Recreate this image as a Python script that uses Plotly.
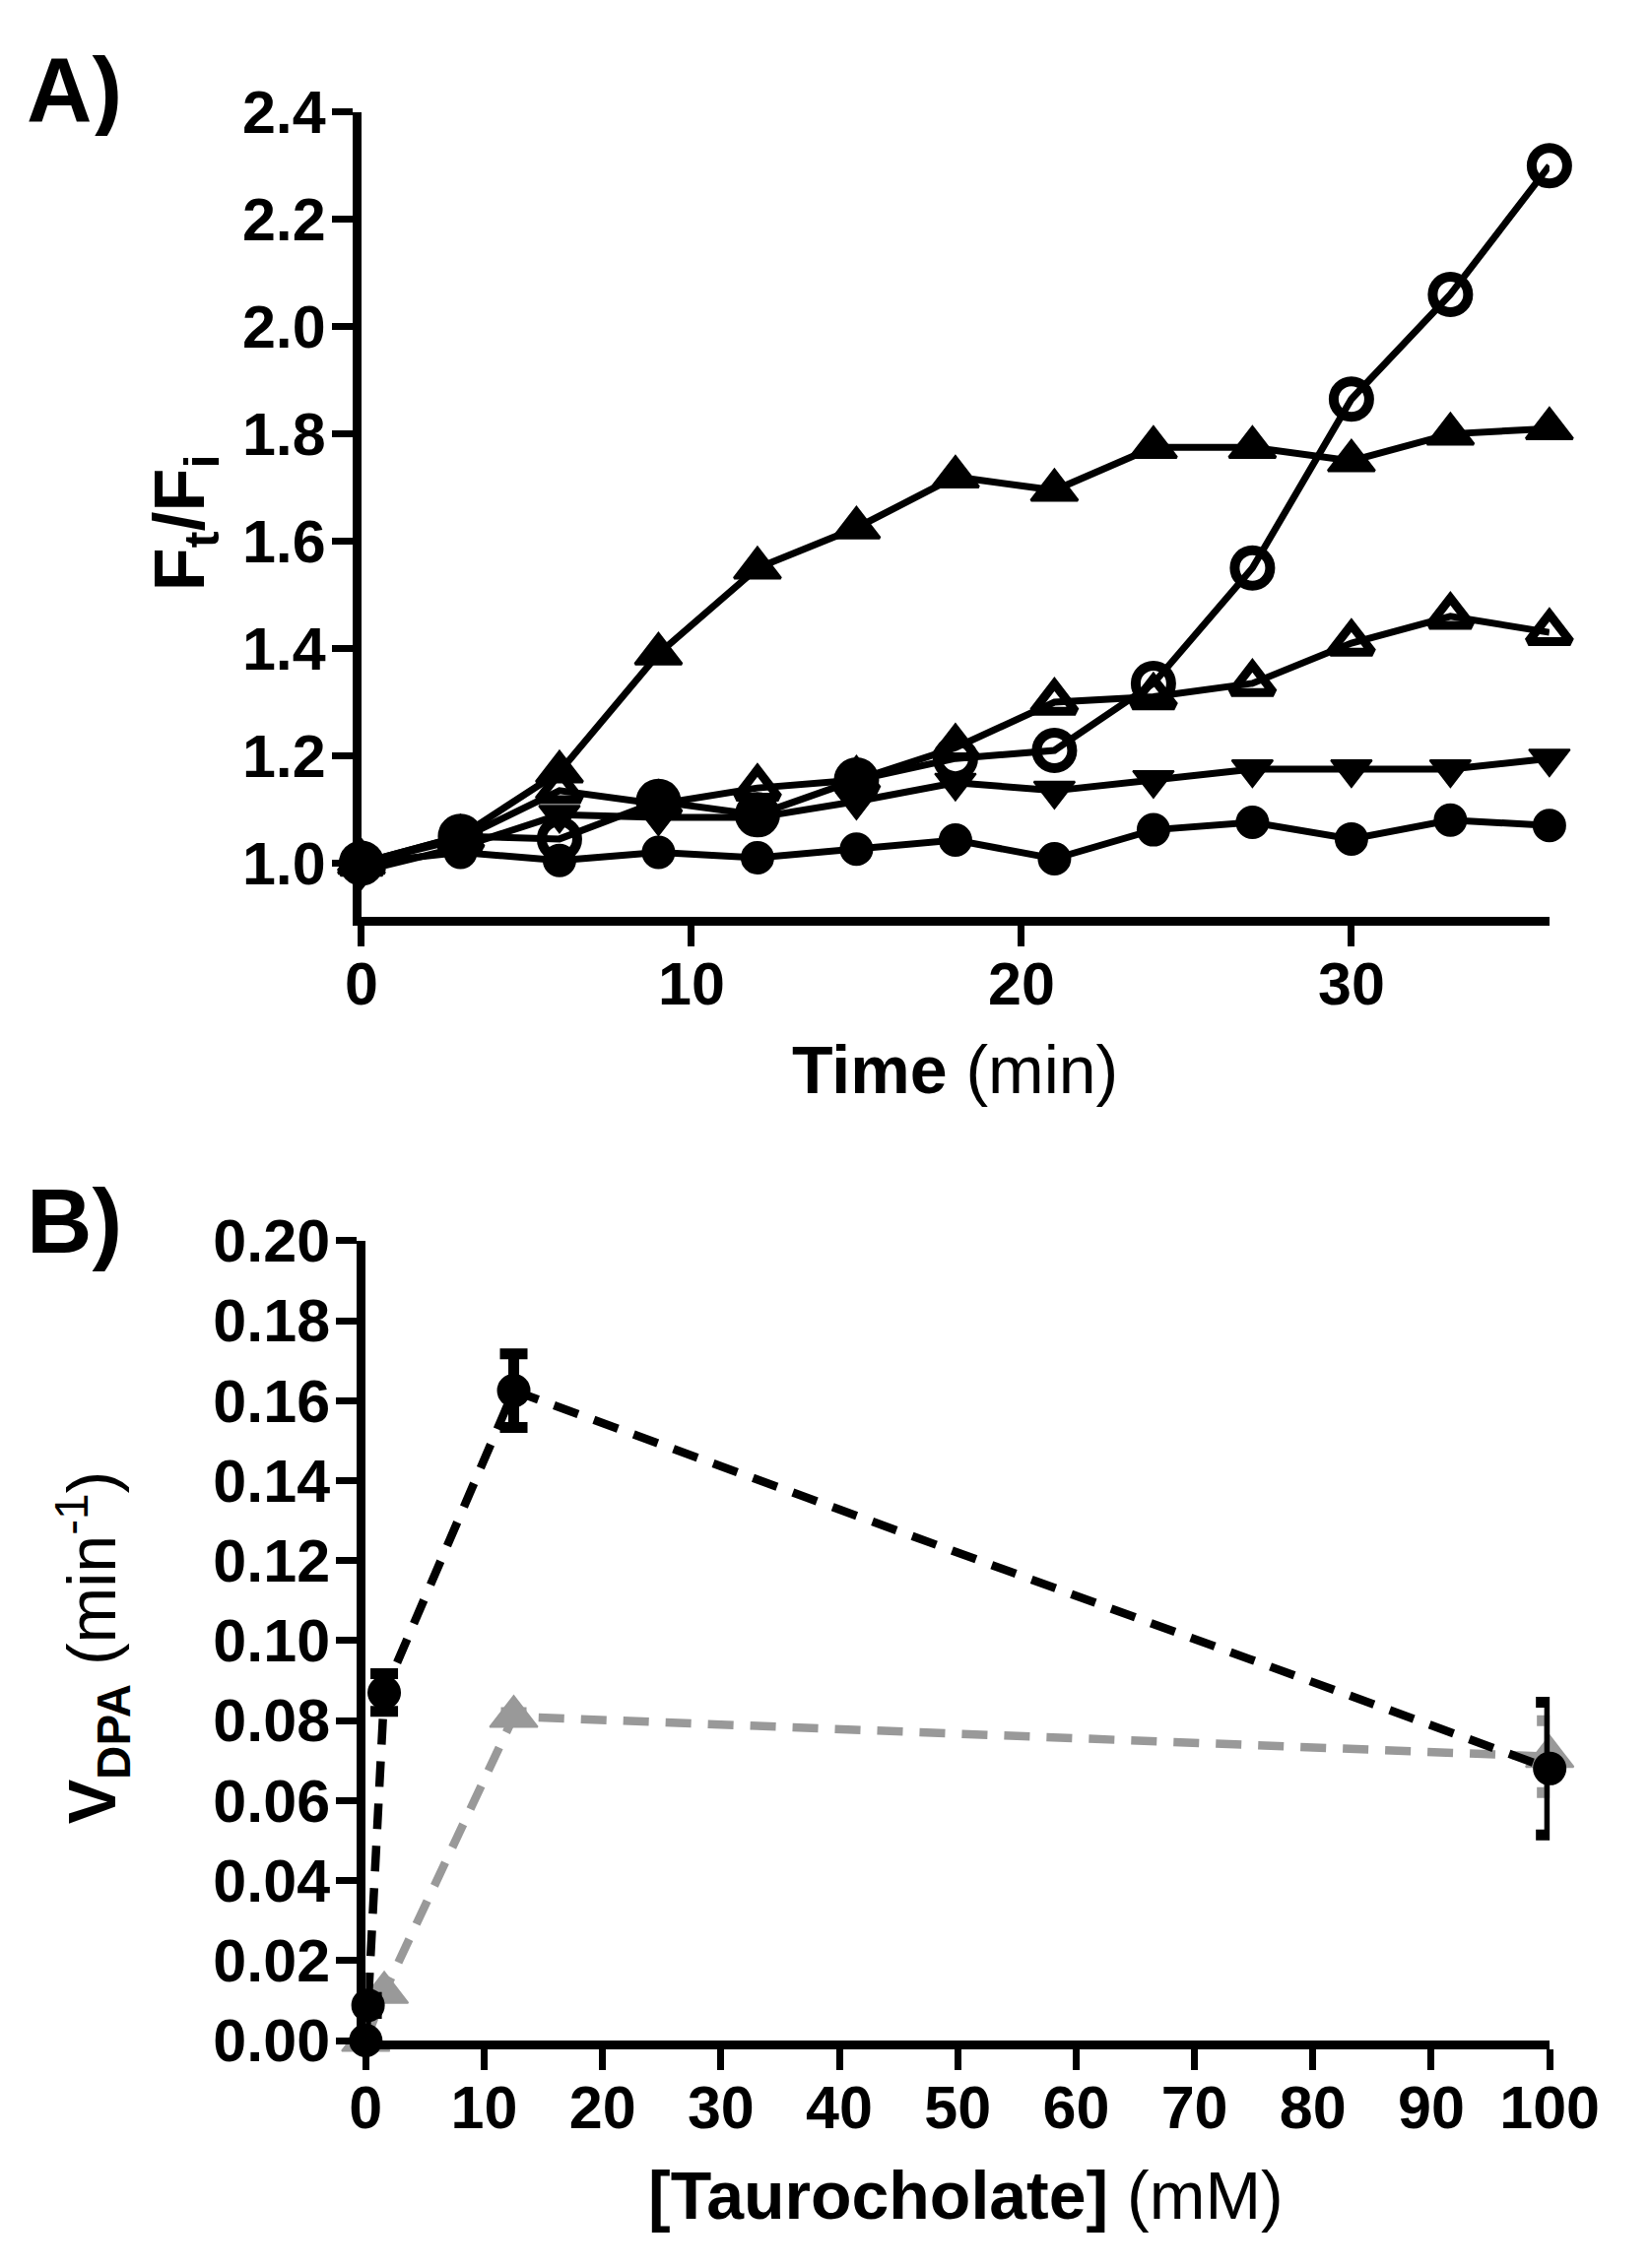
import plotly.graph_objects as go

# ---------- data: panel A (F_t/F_i vs time) ----------
time_min = [0, 3, 6, 9, 12, 15, 18, 21, 24, 27, 30, 33, 36]

filled_tri = [1.00, 1.05, 1.17, 1.39, 1.55, 1.625, 1.72, 1.695, 1.775, 1.775, 1.75, 1.80, 1.81]
open_circ = [1.00, 1.05, 1.045, 1.115, 1.09, 1.155, 1.195, 1.21, 1.335, 1.55, 1.865, 2.06, 2.30]
open_tri = [1.00, 1.045, 1.135, 1.11, 1.14, 1.155, 1.215, 1.30, 1.31, 1.335, 1.41, 1.46, 1.43]
down_tri = [0.985, 1.03, 1.09, 1.085, 1.085, 1.115, 1.15, 1.135, 1.155, 1.175, 1.175, 1.175, 1.195]
filled_circ = [1.00, 1.02, 1.005, 1.02, 1.01, 1.026, 1.043, 1.008, 1.062, 1.076, 1.045, 1.08, 1.07]

a_yticks = [1.0, 1.2, 1.4, 1.6, 1.8, 2.0, 2.2, 2.4]
a_xticks = [0, 10, 20, 30]

# ---------- data: panel B (V_DPA vs taurocholate) ----------
tc_black = [0, 0.195, 1.5625, 12.5, 100]
v_black = [0.0, 0.0088, 0.087, 0.1625, 0.068]
v_black_err = [0.0, 0.002, 0.0047, 0.0092, 0.0166]

tc_gray = [0, 1.5625, 12.5, 100]
v_gray = [0.0, 0.012, 0.081, 0.071]
v_gray_err = [0.0, 0.0, 0.001, 0.009]

b_yticks = [0.00, 0.02, 0.04, 0.06, 0.08, 0.10, 0.12, 0.14, 0.16, 0.18, 0.20]
b_xticks = [0, 10, 20, 30, 40, 50, 60, 70, 80, 90, 100]

# ---------- page geometry ----------
W, H = 1675, 2303
OFF = 8  # default body margin of the html page
FW, FH = W - OFF, H - OFF


def fx(px):
    """page pixel -> paper x"""
    return (px - OFF) / FW


def fy(py):
    """page pixel -> paper y"""
    return 1 - (py - OFF) / FH


FONT = "Liberation Sans, Arial, Helvetica, sans-serif"
BLACK = "#000000"
GRAY = "#999999"
LW = 7

fig = go.Figure()

# open circles look filled at the crowded early points in the original
circ_symbols = ["circle" if i in (0, 1, 3, 4, 5) else "circle-open" for i in range(len(time_min))]

fig.add_trace(go.Scatter(
    x=time_min, y=filled_circ, mode="lines+markers", cliponaxis=False,
    line=dict(color=BLACK, width=LW),
    marker=dict(symbol="circle", size=32, color=BLACK, line=dict(color=BLACK, width=2)),
    xaxis="x", yaxis="y", showlegend=False))
fig.add_trace(go.Scatter(
    x=time_min, y=down_tri, mode="lines+markers", cliponaxis=False,
    line=dict(color=BLACK, width=LW),
    marker=dict(symbol="triangle-down", size=36, color=BLACK, line=dict(color=BLACK, width=2)),
    xaxis="x", yaxis="y", showlegend=False))
fig.add_trace(go.Scatter(
    x=time_min, y=open_tri, mode="lines+markers", cliponaxis=False,
    line=dict(color=BLACK, width=LW),
    marker=dict(symbol="triangle-up-open", size=37, color=BLACK, line=dict(color=BLACK, width=9)),
    xaxis="x", yaxis="y", showlegend=False))
fig.add_trace(go.Scatter(
    x=time_min, y=filled_tri, mode="lines+markers", cliponaxis=False,
    line=dict(color=BLACK, width=LW),
    marker=dict(symbol="triangle-up", size=41, color=BLACK, line=dict(color=BLACK, width=3)),
    xaxis="x", yaxis="y", showlegend=False))
fig.add_trace(go.Scatter(
    x=time_min, y=open_circ, mode="lines+markers", cliponaxis=False,
    line=dict(color=BLACK, width=LW),
    marker=dict(symbol=circ_symbols, size=36, color=BLACK, line=dict(color=BLACK, width=10)),
    xaxis="x", yaxis="y", showlegend=False))

# panel B
fig.add_trace(go.Scatter(
    x=tc_gray, y=v_gray, mode="lines+markers", cliponaxis=False,
    line=dict(color=GRAY, width=8.5, dash="26px,17px"),
    marker=dict(symbol="triangle-up", size=42, color=GRAY, line=dict(color=GRAY, width=2)),
    error_y=dict(type="data", array=v_gray_err, color=GRAY, thickness=11, width=13),
    xaxis="x2", yaxis="y2", showlegend=False))
fig.add_trace(go.Scatter(
    x=tc_black, y=v_black, mode="lines+markers", cliponaxis=False,
    line=dict(color=BLACK, width=8.5, dash="26px,17px"),
    marker=dict(symbol="circle", size=32, color=BLACK, line=dict(color=BLACK, width=2)),
    error_y=dict(type="data", array=v_black_err, color=BLACK, thickness=11, width=14),
    xaxis="x2", yaxis="y2", showlegend=False))

tickfont = dict(family=FONT, size=61, color=BLACK, weight="bold")
axis_common = dict(
    showgrid=False, zeroline=False, showline=True, linecolor=BLACK, linewidth=9,
    ticks="outside", ticklen=21, tickwidth=7, tickcolor=BLACK, tickfont=tickfont,
    ticklabeloverflow="allow", fixedrange=True,
)

fig.update_layout(
    width=FW, height=FH,
    margin=dict(l=0, r=0, t=0, b=0),
    paper_bgcolor="white", plot_bgcolor="white",
    font=dict(family=FONT, color=BLACK),
    xaxis=dict(domain=[fx(364.5), fx(1621.7)], anchor="y", range=[0, 36],
               tickvals=a_xticks, ticklabelstandoff=-14, **axis_common),
    yaxis=dict(domain=[fy(924), fy(82)], anchor="x", range=[0.9, 2.4],
               tickvals=a_yticks, tickformat=".1f", ticklabelstandoff=-6, **axis_common),
    xaxis2=dict(domain=[fx(369), fx(1622)], anchor="y2", range=[0, 100],
                tickvals=b_xticks, ticklabelstandoff=-14, **axis_common),
    yaxis2=dict(domain=[fy(2100), fy(1263)], anchor="x2", range=[0, 0.2],
                tickvals=b_yticks, tickformat=".2f", ticklabelstandoff=-6, **axis_common),
)

title_font = dict(family=FONT, size=68, color=BLACK)
panel_font = dict(family=FONT, size=92, color=BLACK)
# a fixed, tighter box lets the "A)" label sit close to the top edge
fig.add_annotation(text="<b>A)</b>", xref="paper", yref="paper", x=0, y=1,
                   xanchor="left", yanchor="top", height=94, valign="middle",
                   showarrow=False, font=panel_font)
fig.add_annotation(text="<b>B)</b>", xref="paper", yref="paper", x=0, y=fy(1188),
                   xanchor="left", yanchor="top", showarrow=False, font=panel_font)
fig.add_annotation(text="<b>Time</b> (min)", xref="paper", yref="paper",
                   x=fx(993), y=fy(1084), xanchor="center", yanchor="middle",
                   showarrow=False, font=title_font)
fig.add_annotation(text="<b>[Taurocholate]</b> (mM)", xref="paper", yref="paper",
                   x=fx(1004), y=fy(2262), xanchor="center", yanchor="middle",
                   showarrow=False, font=title_font)
fig.add_annotation(text="<b>F<sub>t</sub>/F<sub>i</sub></b>", xref="paper", yref="paper",
                   x=fx(177), y=fy(512), xanchor="center", yanchor="middle",
                   textangle=-90, showarrow=False, font=dict(family=FONT, size=72, color=BLACK))
fig.add_annotation(text="<b>V<sub>DPA</sub></b> (min<sup>-1</sup>)", xref="paper", yref="paper",
                   x=fx(80), y=fy(1689), xanchor="center", yanchor="middle",
                   textangle=-90, showarrow=False, font=title_font)

fig.write_html("out.html")
